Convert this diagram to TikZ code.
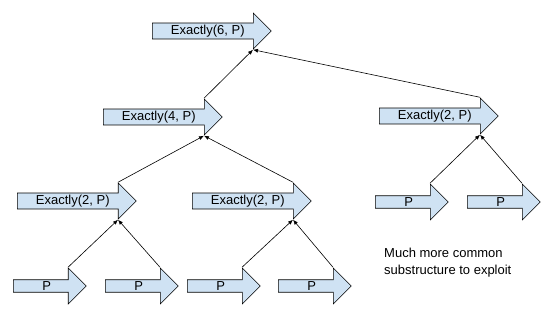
\documentclass[tikz,border=0pt]{standalone}
\usepackage{fontspec}
\setmainfont{Liberation Sans}
\usetikzlibrary{shapes.arrows,arrows.meta}
\definecolor{boxblue}{HTML}{CFE2F3}
\begin{document}
\begin{tikzpicture}[
  x=1pt, y=-1pt,
  font=\fontsize{13}{16.5}\selectfont,
  block/.style={
    single arrow,
    draw=black,
    line width=0.6pt,
    fill=boxblue,
    single arrow head extend=8pt,
    inner sep=0pt,
    minimum width=36pt,
    minimum height=119pt,
    anchor=tail
  },
  block_leaf/.style={
    block,
    single arrow head extend=9pt,
    minimum height=73pt
  },
  link/.style={
    draw=black,
    line width=0.6pt,
    -{Latex[length=5pt,width=4pt]}
  }
]%
\useasboundingbox (0,0) rectangle (555,332);

\node [block] (ex6) at (152,31) {Exactly(6, P)};
\node [block] (ex4) at (103,117) {Exactly(4, P)};
\node [block] (ex2r) at (379,116) {Exactly(2, P)};
\node [block] (ex2a) at (17,201) {Exactly(2, P)};
\node [block] (ex2b) at (192,201) {Exactly(2, P)};

\node [block_leaf] (pr1) at (375,202) {P};
\node [block_leaf] (pr2) at (467,202) {P};
\node [block_leaf] (pa1) at (13,286) {P};
\node [block_leaf] (pa2) at (105,286) {P};
\node [block_leaf] (pb1) at (187,286) {P};
\node [block_leaf] (pb2) at (278,286) {P};

\draw [link] (ex4.before tip) -- (ex6.after tip);
\draw [link] (ex2r.before tip) -- (ex6.after tip);
\draw [link] (ex2a.before tip) -- (ex4.after tip);
\draw [link] (ex2b.before tip) -- (ex4.after tip);
\draw [link] (pa1.before tip) -- (ex2a.after tip);
\draw [link] (pa2.before tip) -- (ex2a.after tip);
\draw [link] (pb1.before tip) -- (ex2b.after tip);
\draw [link] (pb2.before tip) -- (ex2b.after tip);
\draw [link] (pr1.before tip) -- (ex2r.after tip);
\draw [link] (pr2.before tip) -- (ex2r.after tip);

\node [anchor=north west, align=left, inner sep=0pt] (note) at (384,248)
  {Much more common\\substructure to exploit};
\end{tikzpicture}
\end{document}
